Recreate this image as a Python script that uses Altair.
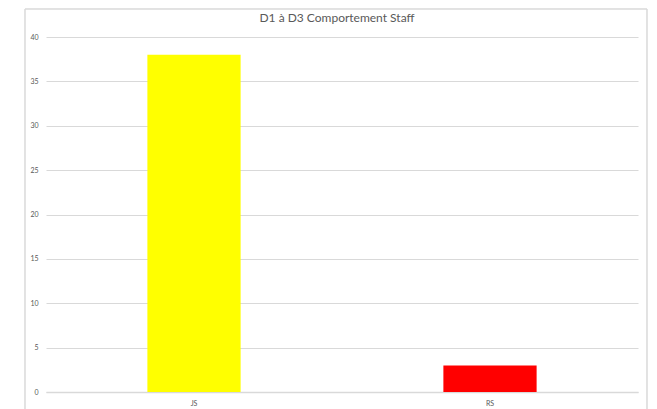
import altair as alt
import pandas as pd

categories = ["JS", "RS"]
values = [38, 3]
colors = ["#FFFF00", "#FF0000"]
chart_title = "D1 à D3 Comportement Staff"

df = pd.DataFrame({"cat": categories, "val": values, "color": colors})
title_df = pd.DataFrame({"t": [chart_title]})

W, H = 592, 355
PL, PT = 38, 29

bars = alt.Chart(df).mark_bar().encode(
    x=alt.X("cat:N", sort=categories,
            scale=alt.Scale(paddingInner=0.685, paddingOuter=0.3425),
            axis=alt.Axis(title=None, labelAngle=0, ticks=False, domain=True,
                          domainColor="#d9d9d9", domainWidth=1.5,
                          labelFontSize=7, labelColor="#595959", labelPadding=7,
                          labelFont="Lato")),
    y=alt.Y("val:Q", scale=alt.Scale(domain=[0, 40]),
            axis=alt.Axis(title=None, values=list(range(0, 41, 5)), ticks=False, domain=False,
                          gridColor="#d9d9d9", gridWidth=1,
                          labelFontSize=7, labelColor="#595959", labelPadding=8,
                          labelFont="Lato")),
    color=alt.Color("color:N", scale=None),
)

border = alt.Chart(df).mark_rect(fill=None, stroke="#d9d9d9", strokeWidth=1).encode(
    x=alt.value(-21), x2=alt.value(601), y=alt.value(-28), y2=alt.value(390)
)

title_mark = alt.Chart(title_df).mark_text(
    fontSize=12, font="Lato", color="#595959", align="center", baseline="middle"
).encode(text="t:N", x=alt.value(291), y=alt.value(-19))

chart = alt.layer(border, bars, title_mark).properties(
    width=W, height=H,
    autosize=alt.AutoSizeParams(type="none"),
    padding={"left": PL, "top": PT, "right": 11, "bottom": 20},
).configure_view(stroke=None)

chart.save("out.html", embed_options={"renderer": "svg", "actions": False})
